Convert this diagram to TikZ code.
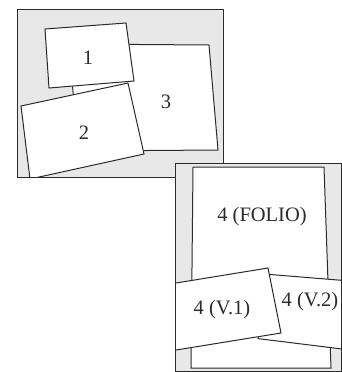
\documentclass[tikz,border=0pt]{standalone}
\usepackage{fontspec}
\setmainfont{Liberation Serif}
\usetikzlibrary{positioning}
\definecolor{cink}{HTML}{2B2B2B}
\definecolor{cdesk}{HTML}{E8E8E8}
\tikzset{
  every picture/.style={line width=1pt, line join=miter},
  desk/.style={draw=cink, fill=cdesk},
  sheet/.style={draw=cink, fill=white},
  tag/.style={font=\fontsize{20.5}{23}\selectfont, text=cink, inner sep=1pt},
}

\begin{document}
\begin{tikzpicture}[x=1pt, y=-1pt]
  \useasboundingbox (0,0) rectangle (342,372);
  % first desk: sheets 1, 2, 3
  \draw[desk] (17,9) rectangle (223,177);
  \begin{scope}
    \clip (17,9) rectangle (223,177);
    \draw[sheet] (69,44) -- (209,45) -- (218,150) -- (78,151) -- cycle;
    \draw[sheet] (45,29) -- (126,23) -- (134,81) -- (49,88) -- cycle;
    \draw[sheet] (21,106) -- (128,83) -- (144,154) -- (30,179) -- cycle;
  \end{scope}
  \draw[cink] (17,9) rectangle (223,177);
  \node[tag] (one) at (88,58) {1};
  \node[tag] (two) at (84,133) {2};
  \node[tag] (three) at (166,102) {3};
  % second desk: folio and two versions
  \draw[desk] (175,163) rectangle (341,371);
  \begin{scope}
    \clip (175,163) rectangle (341,371);
    \draw[sheet] (193,167) -- (324,167) -- (331,368) -- (191,368) -- cycle;
    \draw[sheet] (264,274) -- (350,281) -- (350,350) -- (258,338.6) -- cycle;
    \draw[sheet] (268,268) -- (281,333) -- (170,351) -- (170,284) -- cycle;
  \end{scope}
  \draw[cink] (175,163) rectangle (341,371);
  \node[tag] (folio) at (262,217) {4 (FOLIO)};
  \node[tag] (vone) at (222,310) {4 (V.1)};
  \node[tag] (vtwo) at (310,302) {4 (V.2)};
\end{tikzpicture}
\end{document}
